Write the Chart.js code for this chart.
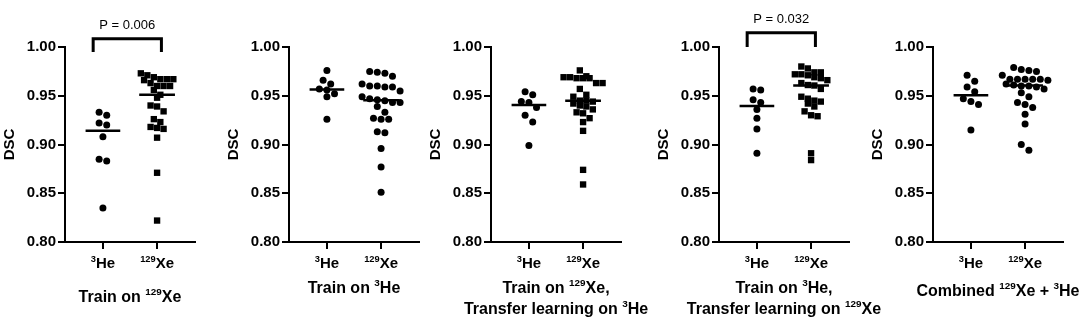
<!DOCTYPE html>
<html>
<head>
<meta charset="utf-8">
<script src="https://cdn.jsdelivr.net/npm/chart.js@4"></script>
<style>
  body { margin: 0; background: #fff; width: 1081px; height: 325px; overflow: hidden; position: relative; }
  canvas { position: absolute; top: 0; }
</style>
</head>
<body>
<canvas id="p0" width="236" height="325"></canvas>
<canvas id="p1" width="236" height="325"></canvas>
<canvas id="p2" width="236" height="325"></canvas>
<canvas id="p3" width="236" height="325"></canvas>
<canvas id="p4" width="236" height="325"></canvas>
<script>
// categories and tick labels (^{..} = superscript)
const categories = ['^{3}He', '^{129}Xe'];
const yTicks = [0.80, 0.85, 0.90, 0.95, 1.00];

const panelTitles = [
    ['Train on ^{129}Xe'],
    ['Train on ^{3}He'],
    ['Train on ^{129}Xe,', 'Transfer learning on ^{3}He'],
    ['Train on ^{3}He,', 'Transfer learning on ^{129}Xe'],
    ['Combined ^{129}Xe + ^{3}He']
];

// DSC values per panel
const trainXe_He = [0.933, 0.930, 0.922, 0.920, 0.908, 0.885, 0.883, 0.835];
const trainXe_Xe = [0.973, 0.971, 0.969, 0.967, 0.967, 0.967, 0.966, 0.963, 0.960, 0.960, 0.960, 0.956, 0.951,
                    0.948, 0.940, 0.939, 0.934, 0.926, 0.923, 0.918, 0.917, 0.916, 0.907, 0.871, 0.822];

const trainHe_He = [0.976, 0.966, 0.962, 0.957, 0.956, 0.952, 0.949, 0.926];
const trainHe_Xe = [0.975, 0.974, 0.973, 0.970, 0.962, 0.960, 0.960, 0.959, 0.959, 0.955, 0.949, 0.947, 0.946,
                    0.945, 0.943, 0.943, 0.939, 0.933, 0.927, 0.926, 0.926, 0.913, 0.912, 0.896, 0.877, 0.851];

const tlHe_He = [0.954, 0.951, 0.944, 0.943, 0.938, 0.930, 0.923, 0.899];
const tlHe_Xe = [0.976, 0.970, 0.969, 0.969, 0.968, 0.968, 0.968, 0.963, 0.963, 0.957, 0.951, 0.949, 0.945,
                 0.945, 0.944, 0.942, 0.940, 0.939, 0.936, 0.933, 0.932, 0.927, 0.923, 0.914, 0.874, 0.859];

const tlXe_He = [0.957, 0.956, 0.946, 0.943, 0.936, 0.927, 0.916, 0.891];
const tlXe_Xe = [0.980, 0.978, 0.974, 0.974, 0.972, 0.972, 0.971, 0.969, 0.968, 0.966, 0.963, 0.961, 0.9605,
                 0.957, 0.949, 0.947, 0.945, 0.944, 0.942, 0.939, 0.934, 0.930, 0.929, 0.891, 0.884];

const combined_He = [0.971, 0.965, 0.959, 0.954, 0.947, 0.944, 0.941, 0.915];
const combined_Xe = [0.979, 0.977, 0.976, 0.975, 0.971, 0.967, 0.967, 0.967, 0.967, 0.967, 0.966, 0.962, 0.961,
                     0.960, 0.960, 0.959, 0.957, 0.953, 0.949, 0.943, 0.941, 0.938, 0.931, 0.921, 0.900, 0.894];

const heSeries = [trainXe_He, trainHe_He, tlHe_He, tlXe_He, combined_He];
const xeSeries = [trainXe_Xe, trainHe_Xe, tlHe_Xe, tlXe_Xe, combined_Xe];
const xeSquare = [true, false, true, true, false];

// significance brackets
const pLabels = ['P = 0.006', null, null, 'P = 0.032', null];
const bracketTop = [1.0085, null, null, 1.0145, null];
const bracketFoot = [0.995, null, null, 1.0, null];
const bracketX = [0.82, 2.08];

// layout
const panelLeft = [1, 225, 427, 655, 869];
const titleY = [296, 287, 287, 287, 290];
const FONT = '"Liberation Sans", Arial, Helvetica, sans-serif';
const X_MIN = 0.3, X_MAX = 2.7;
const PX_X = 130 / (X_MAX - X_MIN);
const PX_Y = 195 / 0.2;

function median(arr) {
    const s = [...arr].sort((a, b) => a - b);
    const m = Math.floor(s.length / 2);
    return s.length % 2 ? s[m] : (s[m - 1] + s[m]) / 2;
}

// prism-like scatter: group close values into rows, spread each row symmetrically
function swarm(values, center, step) {
    const sorted = [...values].sort((a, b) => b - a);
    const rows = [];
    sorted.forEach(v => {
        const row = rows[rows.length - 1];
        if (row && (row[0] - v) * PX_Y < step) row.push(v);
        else rows.push([v]);
    });
    const out = [];
    rows.forEach(row => {
        row.forEach((v, i) => {
            const off = (i - (row.length - 1) / 2) * step;
            out.push({ x: center + off / PX_X, y: v });
        });
    });
    return out;
}

function drawRich(ctx, text, cx, cy, size) {
    const parts = [];
    const re = /\^\{([^}]*)\}/g;
    let last = 0, m;
    while ((m = re.exec(text)) !== null) {
        if (m.index > last) parts.push({ t: text.slice(last, m.index), sup: false });
        parts.push({ t: m[1], sup: true });
        last = re.lastIndex;
    }
    if (last < text.length) parts.push({ t: text.slice(last), sup: false });
    const supSize = size * 0.62;
    let total = 0;
    parts.forEach(p => {
        ctx.font = `bold ${p.sup ? supSize : size}px ${FONT}`;
        p.w = ctx.measureText(p.t).width;
        total += p.w;
    });
    let x = cx - total / 2;
    const base = cy + size * 0.358;
    ctx.textAlign = 'left';
    ctx.textBaseline = 'alphabetic';
    ctx.fillStyle = '#000';
    parts.forEach(p => {
        ctx.font = `bold ${p.sup ? supSize : size}px ${FONT}`;
        ctx.fillText(p.t, x, p.sup ? base - size * 0.4 : base);
        x += p.w;
    });
}

const textPlugin = {
    id: 'panelText',
    afterDraw(chart) {
        const idx = chart.options.plugins.panelText.index;
        const ctx = chart.ctx;
        const area = chart.chartArea;
        const xs = chart.scales.x;
        ctx.save();
        categories.forEach((c, i) => {
            drawRich(ctx, c, xs.getPixelForValue(i + 1), area.bottom + 21, 15);
        });
        const cx = (area.left + area.right) / 2;
        panelTitles[idx].forEach((line, j) => {
            drawRich(ctx, line, cx, titleY[idx] + j * 21, 16);
        });
        if (pLabels[idx]) {
            const ys = chart.scales.y;
            const px = (xs.getPixelForValue(bracketX[0]) + xs.getPixelForValue(bracketX[1])) / 2;
            ctx.font = `13px ${FONT}`;
            ctx.textAlign = 'center';
            ctx.textBaseline = 'middle';
            ctx.fillStyle = '#000';
            ctx.fillText(pLabels[idx], px, ys.getPixelForValue(bracketTop[idx]) - 13);
        }
        ctx.restore();
    }
};

function makePanel(idx) {
    const he = heSeries[idx], xe = xeSeries[idx];
    const sq = xeSquare[idx];
    const heMed = median(he), xeMed = median(xe);
    const datasets = [
        {
            data: swarm(he, 1, 7.6),
            pointStyle: 'circle', pointRadius: 3.5, pointHoverRadius: 3.5,
            backgroundColor: '#000', borderWidth: 0, showLine: false
        },
        {
            data: swarm(xe, 2, sq ? 6.5 : 7.6),
            pointStyle: sq ? 'rect' : 'circle', pointRadius: sq ? 4.5 : 3.5, pointHoverRadius: sq ? 4.5 : 3.5,
            backgroundColor: '#000', borderWidth: 0, showLine: false
        },
        {
            type: 'line', data: [{ x: 1 - 0.32, y: heMed }, { x: 1 + 0.32, y: heMed }],
            borderColor: '#000', borderWidth: 2.5, pointRadius: 0
        },
        {
            type: 'line', data: [{ x: 2 - 0.33, y: xeMed }, { x: 2 + 0.33, y: xeMed }],
            borderColor: '#000', borderWidth: 2.5, pointRadius: 0
        }
    ];
    if (pLabels[idx]) {
        datasets.push({
            type: 'line', clip: false,
            data: [
                { x: bracketX[0], y: bracketFoot[idx] }, { x: bracketX[0], y: bracketTop[idx] },
                { x: bracketX[1], y: bracketTop[idx] }, { x: bracketX[1], y: bracketFoot[idx] }
            ],
            borderColor: '#000', borderWidth: 3, pointRadius: 0, borderJoinStyle: 'miter', borderCapStyle: 'butt'
        });
    }

    const canvas = document.getElementById('p' + idx);
    canvas.style.left = panelLeft[idx] + 'px';
    new Chart(canvas.getContext('2d'), {
        type: 'scatter',
        data: { datasets: datasets },
        plugins: [textPlugin],
        options: {
            responsive: false,
            animation: false,
            events: [],
            layout: { padding: { top: 47, right: 42, left: 0, bottom: 0 } },
            plugins: {
                legend: { display: false },
                tooltip: { enabled: false },
                panelText: { index: idx }
            },
            scales: {
                x: {
                    type: 'linear', min: X_MIN, max: X_MAX,
                    afterBuildTicks: s => { s.ticks = categories.map((c, i) => ({ value: i + 1 })); },
                    afterFit: s => { s.height = 83; },
                    ticks: { callback: () => '', padding: 0 },
                    grid: { drawOnChartArea: false, color: '#000', lineWidth: 2, tickLength: 7 },
                    border: { color: '#000', width: 2 }
                },
                y: {
                    min: yTicks[0], max: yTicks[yTicks.length - 1],
                    afterBuildTicks: s => { s.ticks = yTicks.map(v => ({ value: v })); },
                    afterFit: s => { s.width = 64; },
                    ticks: {
                        callback: v => v.toFixed(2),
                        color: '#000', padding: 2,
                        font: { family: FONT, size: 15, weight: 'bold' }
                    },
                    title: {
                        display: true, text: 'DSC', color: '#000', padding: 0,
                        font: { family: FONT, size: 15, weight: 'bold' }
                    },
                    grid: { drawOnChartArea: false, color: '#000', lineWidth: 2, tickLength: 7 },
                    border: { color: '#000', width: 2 }
                }
            }
        }
    });
}

for (let i = 0; i < 5; i++) makePanel(i);
</script>
</body>
</html>
